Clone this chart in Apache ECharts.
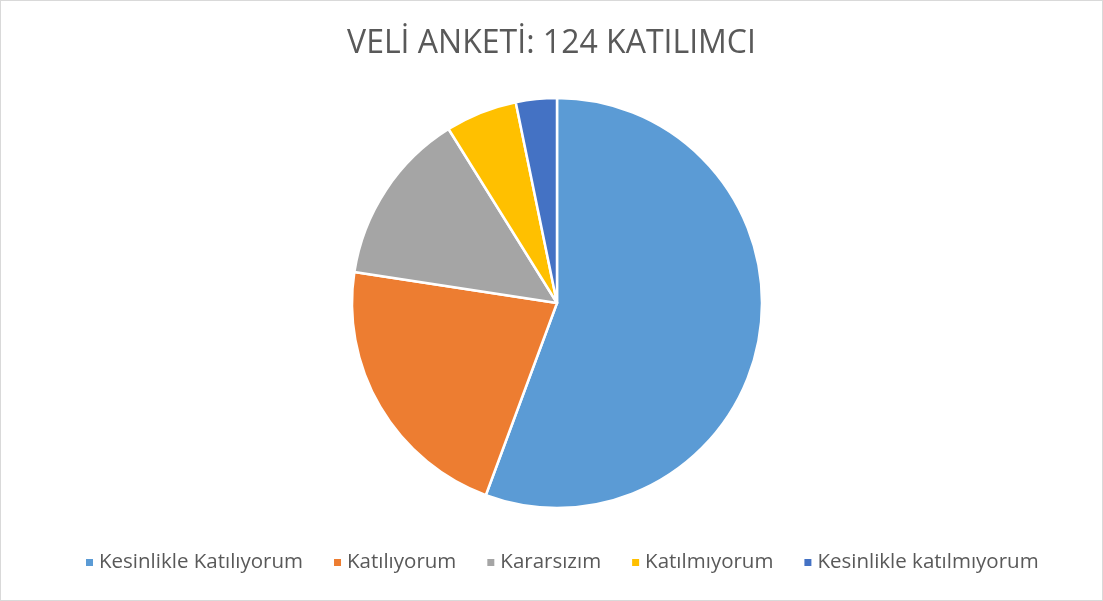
<!DOCTYPE html>
<html>
<head>
<meta charset="utf-8">
<script src="https://cdn.jsdelivr.net/npm/echarts@6/dist/echarts.min.js"></script>
<style>
  html, body { margin: 0; padding: 0; background: #fff; }
  #chart { width: 1103px; height: 601px; box-sizing: border-box; border: 1px solid #d9d9d9; }
</style>
</head>
<body>
<div id="chart"></div>
<script>
var categories = ['Kesinlikle Katılıyorum', 'Katılıyorum', 'Kararsızım', 'Katılmıyorum', 'Kesinlikle katılmıyorum'];
var counts = [69, 27, 17, 7, 4];
var colors = ['#5B9BD5', '#ED7D31', '#A5A5A5', '#FFC000', '#4472C4'];

var chart = echarts.init(document.getElementById('chart'));

var pieData = [];
for (var i = 0; i < categories.length; i++) {
  pieData.push({ name: categories[i], value: counts[i] });
}

var option = {
  animation: false,
  color: colors,
  title: {
    text: 'VELİ ANKETİ: 124 KATILIMCI',
    left: 'center',
    top: 22,
    textStyle: {
      fontFamily: 'Open Sans',
      fontSize: 32,
      fontWeight: 'normal',
      color: '#595959'
    }
  },
  legend: {
    bottom: 22,
    left: 78,
    icon: 'rect',
    itemWidth: 9,
    itemHeight: 9,
    itemGap: 29,
    textStyle: {
      fontFamily: 'Open Sans',
      fontSize: 20.5,
      color: '#595959'
    },
    data: categories
  },
  series: [{
    type: 'pie',
    center: [556, 302],
    radius: 205,
    startAngle: 90,
    clockwise: true,
    label: { show: false },
    labelLine: { show: false },
    itemStyle: { borderColor: '#fff', borderWidth: 2.5 },
    emphasis: { disabled: true },
    data: pieData
  }]
};

chart.setOption(option);
</script>
</body>
</html>
